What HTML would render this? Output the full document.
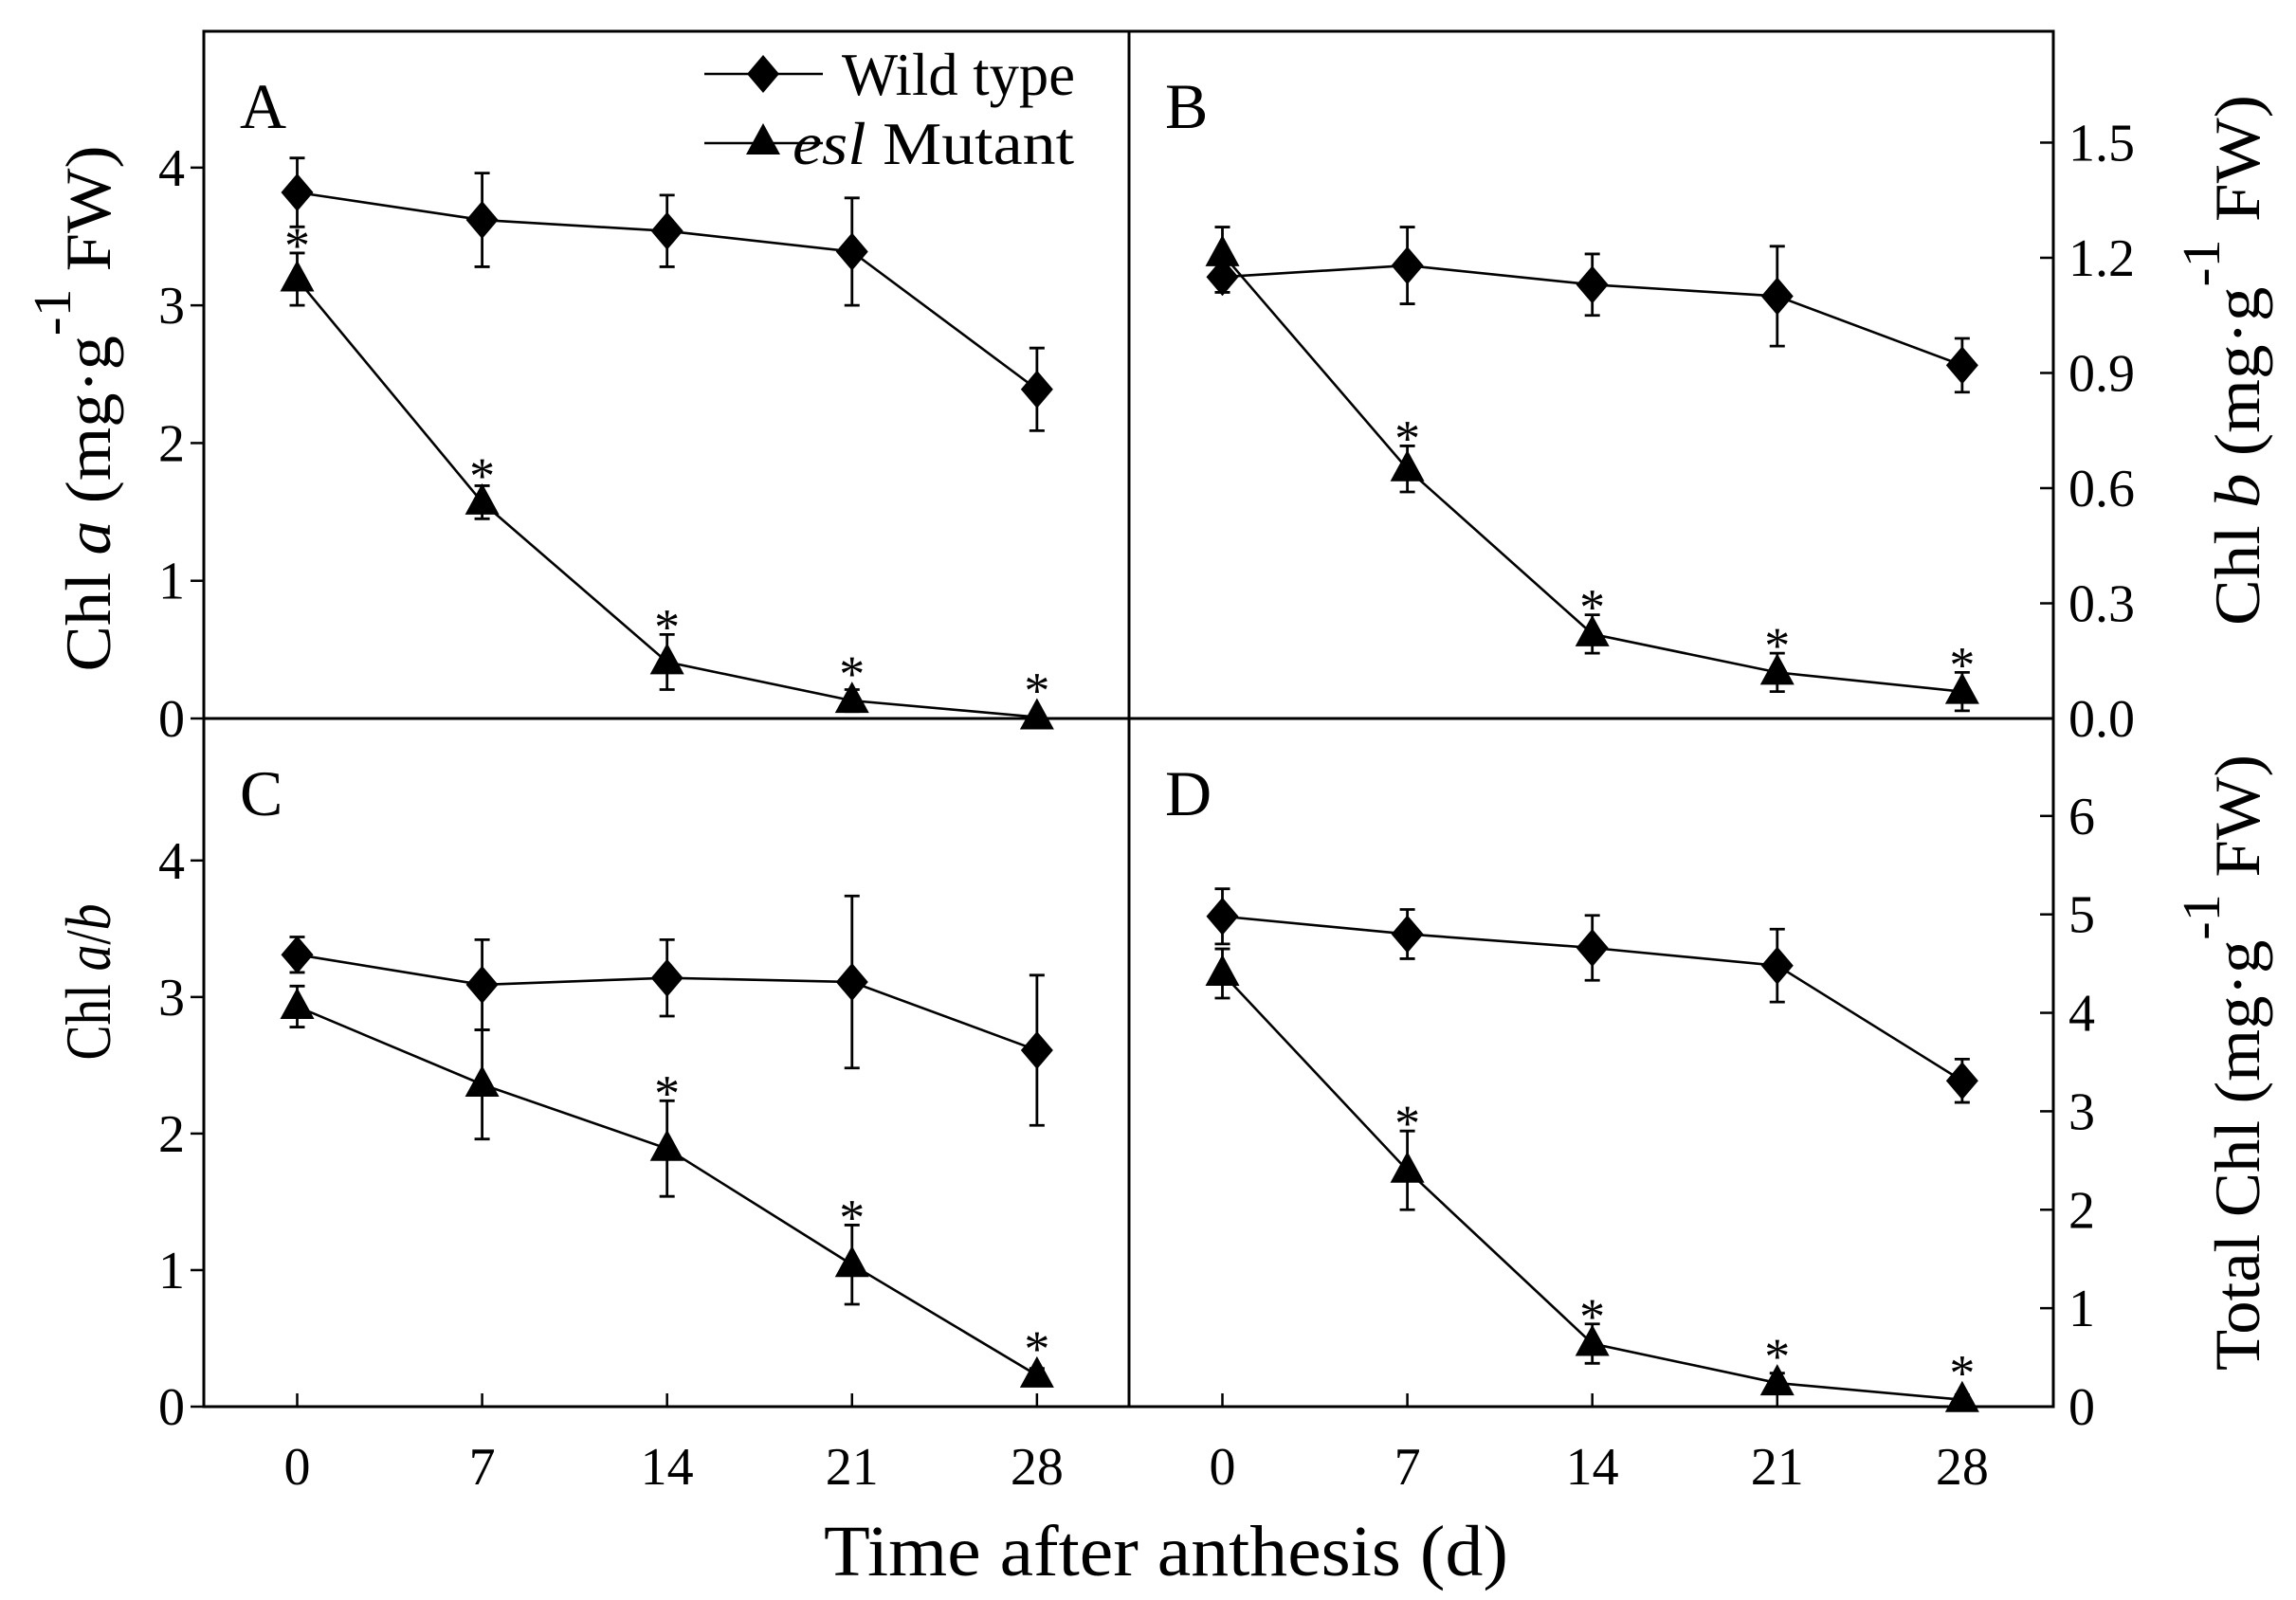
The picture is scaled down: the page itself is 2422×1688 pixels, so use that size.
<!DOCTYPE html>
<html><head><meta charset="utf-8"><style>
html,body{margin:0;padding:0;background:#fff}
svg{display:block}
text{font-family:"Liberation Serif",serif;fill:#000}
</style></head><body>
<svg id="fig" width="2422" height="1688" viewBox="0 0 2422 1688" xmlns="http://www.w3.org/2000/svg"></svg>
<script>
const days = [0, 7, 14, 21, 28];
const xTickLabels = ["0", "7", "14", "21", "28"];
// Panel A: Chl a
const aWild = [3.82, 3.62, 3.54, 3.39, 2.39];
const aWildErr = [0.25, 0.34, 0.26, 0.39, 0.30];
const aMut = [3.19, 1.57, 0.41, 0.13, 0.01];
const aMutErr = [0.19, 0.12, 0.20, 0.08, 0.02];
const aStars = [1, 1, 1, 1, 1];
const aTicks = [0, 1, 2, 3, 4];
// Panel B: Chl b
const bWild = [1.15, 1.18, 1.13, 1.10, 0.92];
const bWildErr = [0.04, 0.10, 0.08, 0.13, 0.07];
const bMut = [1.21, 0.65, 0.22, 0.12, 0.07];
const bMutErr = [0.07, 0.06, 0.05, 0.05, 0.05];
const bStars = [0, 1, 1, 1, 1];
const bTicks = [0.0, 0.3, 0.6, 0.9, 1.2, 1.5];
// Panel C: Chl a/b
const cWild = [3.31, 3.09, 3.14, 3.11, 2.61];
const cWildErr = [0.13, 0.33, 0.28, 0.63, 0.55];
const cMut = [2.93, 2.36, 1.89, 1.04, 0.23];
const cMutErr = [0.15, 0.40, 0.35, 0.29, 0.05];
const cStars = [0, 0, 1, 1, 1];
const cTicks = [0, 1, 2, 3, 4];
// Panel D: Total Chl
const dWild = [4.98, 4.80, 4.66, 4.48, 3.31];
const dWildErr = [0.28, 0.25, 0.33, 0.37, 0.22];
const dMut = [4.40, 2.40, 0.64, 0.24, 0.07];
const dMutErr = [0.25, 0.40, 0.20, 0.10, 0.05];
const dStars = [0, 1, 1, 1, 1];
const dTicks = [0, 1, 2, 3, 4, 5, 6];

const NS = "http://www.w3.org/2000/svg";
const svg = document.getElementById("fig");
function mk(tag, attrs, parent) {
  const e = document.createElementNS(NS, tag);
  for (const k in attrs) e.setAttribute(k, attrs[k]);
  (parent || svg).appendChild(e);
  return e;
}
const L = 215, MX = 1191, R = 2166, T = 33, MY = 758, B = 1484;
const TF = 56;

function panel(name, x0, x1, y0, y1, ymax, wild, wildErr, mut, mutErr, stars, ticks, side, decimals, letter) {
  const g = mk("g", {});
  
  
  const xs = d => x0 + 98.5 + d * 27.87;
  const ys = v => y1 - v / ymax * (y1 - y0);
  ticks.forEach(t => {
    const y = ys(t);
    if (side === "left") {
      const tk = mk("line", {x1: x0 - 14, x2: x0, y1: y, y2: y, stroke: "#000", "stroke-width": 2.5}, g);
      
      
      const lb = mk("text", {x: x0 - 20, y: y + 19, "font-size": TF, "text-anchor": "end"}, g);
      lb.textContent = String(t);
      
      
    } else {
      const tk = mk("line", {x1: x1 - 14, x2: x1, y1: y, y2: y, stroke: "#000", "stroke-width": 2.5}, g);
      
      
      const lb = mk("text", {x: x1 + 16, y: y + 19, "font-size": TF, "text-anchor": "start"}, g);
      lb.textContent = t.toFixed(decimals);
      
      
    }
  });
  function series(vals, errs, kind) {
    const pts = days.map((d, i) => xs(d) + "," + ys(vals[i])).join(" ");
    const pl = mk("polyline", {points: pts, fill: "none", stroke: "#000", "stroke-width": 2.6}, g);
    
    
    days.forEach((d, i) => {
      const x = xs(d), y = ys(vals[i]);
      const yt = ys(vals[i] + errs[i]), yb = ys(Math.max(0, vals[i] - errs[i]));
      const eb = mk("path", {d: `M${x},${yt}V${yb}M${x-8},${yt}H${x+8}M${x-8},${yb}H${x+8}`, stroke: "#000", "stroke-width": 2.8, fill: "none"}, g);
      
      
      let m;
      if (kind === "wild") {
        m = mk("polygon", {points: `${x},${y-20} ${x+17},${y} ${x},${y+20} ${x-17},${y}`, fill: "#000"}, g);
      } else {
        m = mk("polygon", {points: `${x},${y-20} ${x+18},${y+13} ${x-18},${y+13}`, fill: "#000"}, g);
      }
      
      
      if (kind === "mutant" && stars[i]) {
        const st = mk("text", {x: x, y: Math.min(yt, y - 20) + 10, "font-size": 54, "text-anchor": "middle"}, g);
        st.textContent = "*";
        
        
      }
    });
  }
  series(wild, wildErr, "wild");
  series(mut, mutErr, "mutant");
  if (y1 === B) {
    days.forEach((d, i) => {
      const tk = mk("line", {x1: xs(d), x2: xs(d), y1: y1 - 14, y2: y1, stroke: "#000", "stroke-width": 2.5}, g);
      
      
      const lb = mk("text", {x: xs(d), y: 1566, "font-size": TF, "text-anchor": "middle"}, g);
      lb.textContent = xTickLabels[i];
      
      
    });
  }
  const lt = mk("text", {x: x0 + 38, y: y0 + 102, "font-size": 68}, g);
  lt.textContent = letter;
  
  
}

panel("a", L, MX, T, MY, 4.99, aWild, aWildErr, aMut, aMutErr, aStars, aTicks, "left", 0, "A");
panel("b", MX, R, T, MY, 1.79, bWild, bWildErr, bMut, bMutErr, bStars, bTicks, "right", 1, "B");
panel("c", L, MX, MY, B, 5.04, cWild, cWildErr, cMut, cMutErr, cStars, cTicks, "left", 0, "C");
panel("d", MX, R, MY, B, 6.99, dWild, dWildErr, dMut, dMutErr, dStars, dTicks, "right", 0, "D");

const fr = mk("path", {d: `M${L},${T}H${R}V${B}H${L}Z M${MX},${T}V${B} M${L},${MY}H${R}`, fill: "none", stroke: "#000", "stroke-width": 3});



const lg = mk("g", {});


mk("line", {x1: 743, x2: 868, y1: 78, y2: 78, stroke: "#000", "stroke-width": 2.6}, lg);
mk("polygon", {points: "805,58 822,78 805,98 788,78", fill: "#000"}, lg);
const lt1 = mk("text", {x: 888, y: 100, "font-size": 64, textLength: 246, lengthAdjust: "spacingAndGlyphs"}, lg);
lt1.textContent = "Wild type";


mk("line", {x1: 743, x2: 868, y1: 151, y2: 151, stroke: "#000", "stroke-width": 2.6}, lg);
mk("polygon", {points: "805,130 823,163 787,163", fill: "#000"}, lg);
const lt2 = mk("text", {x: 836, y: 173, "font-size": 64, textLength: 297, lengthAdjust: "spacingAndGlyphs"}, lg);
lt2.innerHTML = '<tspan font-style="italic">esl</tspan> Mutant';



function ytitle(name, cx, cy, rot, html, len) {
  const t = mk("text", {x: 0, y: 0, "font-size": 68, "text-anchor": "middle", transform: `translate(${cx},${cy}) rotate(${rot})`, textLength: len, lengthAdjust: "spacingAndGlyphs"});
  t.innerHTML = html;
  
  
}
ytitle('y-axis-title-chl-a', 116, 431, -90, 'Chl <tspan font-style="italic">a</tspan> (mg·g<tspan dy="-42" font-size="56">-1</tspan><tspan dy="42"> FW)</tspan>', 555);
ytitle('y-axis-title-chl-b', 2383, 380, -90, 'Chl <tspan font-style="italic">b</tspan> (mg·g<tspan dy="-42" font-size="56">-1</tspan><tspan dy="42"> FW)</tspan>', 560);
ytitle('y-axis-title-chl-ab', 116, 1036, -90, 'Chl <tspan font-style="italic">a</tspan>/<tspan font-style="italic">b</tspan>', 165);
ytitle('y-axis-title-total-chl', 2383, 1121, -90, 'Total Chl (mg·g<tspan dy="-42" font-size="56">-1</tspan><tspan dy="42"> FW)</tspan>', 650);

const xt = mk("text", {x: 1230, y: 1662, "font-size": 76, "text-anchor": "middle", textLength: 722, lengthAdjust: "spacingAndGlyphs"});
xt.textContent = "Time after anthesis (d)";


</script>
</body></html>
